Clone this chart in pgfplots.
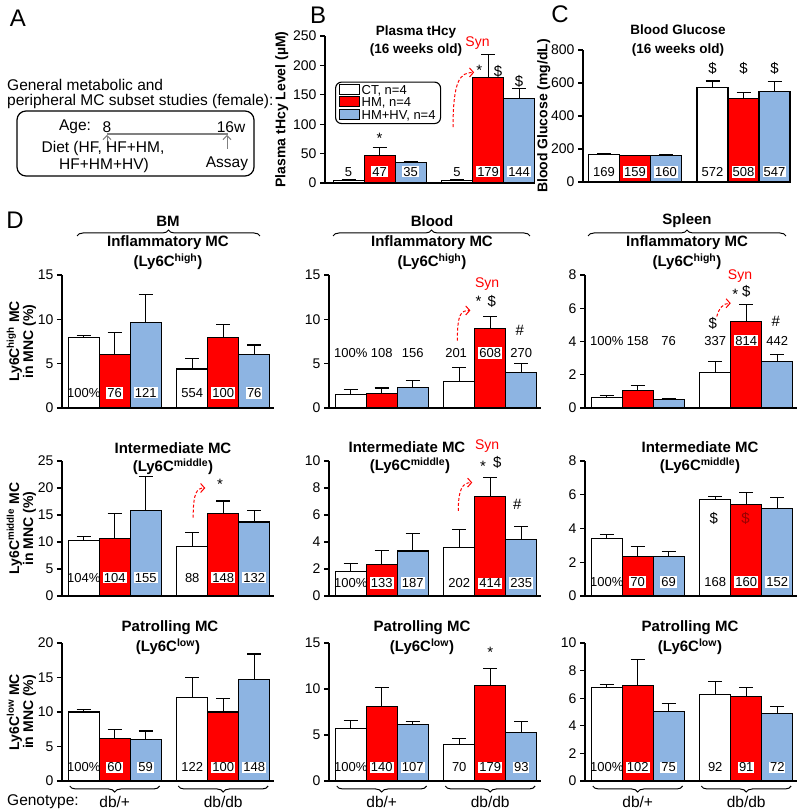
\documentclass[border=0pt]{standalone}
\usepackage{fontspec}
\setmainfont{Liberation Sans}
\usepackage{pgfplots}
\pgfplotsset{compat=1.18}
\usetikzlibrary{decorations.pathreplacing, arrows.meta}
\definecolor{hmred}{HTML}{FF0000}
\definecolor{hvblue}{HTML}{8DB4E2}
\definecolor{dred}{HTML}{9A0000}
\newcommand{\fs}[1]{\fontsize{#1}{#1}\selectfont}
\newcommand{\ttl}{\bfseries\fs{15}}
\newcommand{\lbB}[3]{\node[fill=white, inner sep=1pt, font=\fs{13}] at (axis cs:#1,#2) {#3};}
\newcommand{\lbN}[3]{\node[inner sep=1pt, font=\fs{13}] at (axis cs:#1,#2) {#3};}
\newcommand{\labs}[7]{\lbN{1}{#1}{#2}\lbB{2}{#1}{#3}\lbB{3}{#1}{#4}\lbN{4.5}{#1}{#5}\lbB{5.5}{#1}{#6}\lbB{6.5}{#1}{#7}}
\newcommand{\ann}[3]{\node[font=\fs{15}] at (axis cs:#1,#2) {#3};}
\newcommand{\syn}[2]{\node[font=\fs{14}, text=hmred] at (axis cs:#1,#2) {Syn};}
\newcommand{\rarr}[8]{\draw[hmred, dash pattern=on 3pt off 2pt, line width=1pt, -{Straight Barb[length=4pt,width=9pt]}] (axis cs:#1,#2) .. controls (axis cs:#3,#4) and (axis cs:#5,#6) .. (axis cs:#7,#8);}

\pgfplotsset{
  bp/.style={
    scale only axis,
    axis x line=bottom, axis y line=left,
    axis line style={-, line width=1.1pt, black},
    xtick=\empty,
    tick align=outside,
    major tick length=5pt,
    ytick style={line width=1.1pt, black},
    /pgf/number format/assume math mode=true,
    yticklabel style={font=\fs{14}},
    ybar,
    clip=false,
    xmin=0.3, xmax=7.15, width=212.4pt,
    ymin=0,
    every axis plot/.append style={draw=black, line width=1.1pt, bar shift=0pt, bar width=1,
      /pgfplots/error bars/y dir=plus, /pgfplots/error bars/y explicit,
      /pgfplots/error bars/error bar style={line width=1.1pt, black, solid},
      /pgfplots/error bars/error mark options={rotate=90, mark size=7pt, line width=1.1pt, black, solid}},
    ylabel style={font=\bfseries\fs{14}, align=center},
  },
  mylegend/.style={legend image code/.code={\draw[##1, line width=1pt, sharp corners] (0pt,-4pt) rectangle (20pt,6pt);}},
}

\begin{document}
\begin{tikzpicture}
\useasboundingbox (0,0) rectangle (800pt,811pt);

% ---------------- B
\begin{axis}[bp, at={(325pt,628pt)}, anchor=south west,
  xmin=0.24, xmax=7.0, width=209.6pt, height=147pt,
  ymax=250, ytick={0,50,100,150,200,250},
  ylabel={Plasma tHcy Level (µM)}, ylabel shift=-2pt,
  legend style={at={(0.048,0.69)}, anchor=north west, draw=black, line width=1.1pt,
    rounded corners=6pt, font=\fs{13}, inner xsep=3pt, inner ysep=1pt, row sep=-2pt, cells={anchor=west}},
]
\addplot[fill=white, mylegend] coordinates {(1,5) +- (0,1) (4.5,5) +- (0,1)};
\addplot[fill=hmred, mylegend] coordinates {(2,47) +- (0,13) (5.5,179) +- (0,39)};
\addplot[fill=hvblue, mylegend] coordinates {(3,35) +- (0,2) (6.5,144) +- (0,17)};
\legend{{CT, n=4},{HM, n=4},{HM+HV, n=4}}
\labs{19}{5}{47}{35}{5}{179}{144}
\ann{2}{76}{*}
\ann{5.22}{192}{*}
\ann{5.82}{190}{\$}
\ann{6.5}{173}{\$}
\syn{5.16}{238}
\rarr{4.37}{95}{4.37}{175}{4.6}{188}{5.05}{188}
\end{axis}

% ---------------- C
\begin{axis}[bp, at={(583pt,629pt)}, anchor=south west,
  xmin=0.32, xmax=7.0, width=207pt, height=132pt,
  ymax=800, ytick={0,200,400,600,800},
  ylabel={Blood Glucose (mg/dL)}, ylabel shift=-6pt]
\addplot[fill=white] coordinates {(1,169) +- (0,4) (4.5,572) +- (0,40)};
\addplot[fill=hmred] coordinates {(2,159) +- (0,3) (5.5,508) +- (0,35)};
\addplot[fill=hvblue] coordinates {(3,160) +- (0,4) (6.5,547) +- (0,60)};
\labs{61}{169}{159}{160}{572}{508}{547}
\ann{4.5}{690}{\$}\ann{5.5}{690}{\$}\ann{6.5}{690}{\$}
\end{axis}

% ---------------- Row 1
\begin{axis}[bp, at={(62pt,403pt)}, anchor=south west, height=133pt,
  ymax=15, ytick={0,5,10,15}, ylabel shift=-5pt,
  ylabel={Ly6C\textsuperscript{high} MC\\in MNC (\%)}]
\addplot[fill=white] coordinates {(1,7.9) +- (0,0.25) (4.5,4.4) +- (0,1.2)};
\addplot[fill=hmred] coordinates {(2,6.0) +- (0,2.5) (5.5,8.0) +- (0,1.4)};
\addplot[fill=hvblue] coordinates {(3,9.6) +- (0,3.2) (6.5,6.0) +- (0,1.1)};
\labs{1.7}{100\%}{76}{121}{554}{100}{76}
\end{axis}

\begin{axis}[bp, at={(329pt,403pt)}, anchor=south west, height=133pt,
  ymax=15, ytick={0,5,10,15}]
\addplot[fill=white] coordinates {(1,1.5) +- (0,0.55) (4.5,3.0) +- (0,1.6)};
\addplot[fill=hmred] coordinates {(2,1.6) +- (0,0.65) (5.5,9.0) +- (0,1.3)};
\addplot[fill=hvblue] coordinates {(3,2.3) +- (0,0.8) (6.5,4.0) +- (0,1.0)};
\lbN{1}{6.2}{100\%}\lbN{2}{6.2}{108}\lbN{3}{6.2}{156}\lbN{4.4}{6.2}{201}\lbB{5.5}{6.2}{608}\lbN{6.5}{6.2}{270}
\ann{5.12}{12.0}{*}\ann{5.55}{12.0}{\$}\ann{6.45}{8.8}{\#}
\syn{5.4}{14.0}
\rarr{4.44}{7.6}{4.44}{10.6}{4.55}{11.0}{4.86}{11.0}
\end{axis}

\begin{axis}[bp, at={(585pt,403pt)}, anchor=south west, height=133pt,
  ymax=8, ytick={0,2,4,6,8}]
\addplot[fill=white] coordinates {(1,0.63) +- (0,0.1) (4.5,2.15) +- (0,0.63)};
\addplot[fill=hmred] coordinates {(2,1.03) +- (0,0.3) (5.5,5.2) +- (0,1.05)};
\addplot[fill=hvblue] coordinates {(3,0.5) +- (0,0.05) (6.5,2.8) +- (0,0.42)};
\lbN{1}{4.05}{100\%}\lbN{2}{4.05}{158}\lbN{3}{4.05}{76}\lbN{4.5}{4.05}{337}\lbB{5.5}{4.05}{814}\lbN{6.5}{4.05}{442}
\ann{4.42}{5.1}{\$}\ann{5.15}{6.85}{*}\ann{5.5}{7.0}{\$}\ann{6.45}{5.2}{\#}
\syn{5.3}{7.95}
\rarr{4.55}{5.5}{4.62}{6.0}{4.75}{6.3}{5.0}{6.3}
\end{axis}

% ---------------- Row 2
\begin{axis}[bp, at={(62pt,215pt)}, anchor=south west, height=135pt,
  ymax=25, ytick={0,5,10,15,20,25}, ylabel shift=-5pt,
  ylabel={Ly6C\textsuperscript{middle} MC\\in MNC (\%)}]
\addplot[fill=white] coordinates {(1,10.3) +- (0,0.7) (4.5,9.2) +- (0,2.6)};
\addplot[fill=hmred] coordinates {(2,10.7) +- (0,4.6) (5.5,15.2) +- (0,2.4)};
\addplot[fill=hvblue] coordinates {(3,15.9) +- (0,6.2) (6.5,13.7) +- (0,2.2)};
\labs{3.4}{104\%}{104}{155}{88}{148}{132}
\ann{5.4}{20.7}{*}
\rarr{4.53}{14.5}{4.53}{19.2}{4.65}{20}{4.92}{20}
\end{axis}

\begin{axis}[bp, at={(329pt,215pt)}, anchor=south west, height=135pt,
  ymax=10, ytick={0,2,4,6,8,10}]
\addplot[fill=white] coordinates {(1,1.8) +- (0,0.6) (4.5,3.6) +- (0,1.3)};
\addplot[fill=hmred] coordinates {(2,2.35) +- (0,1.0) (5.5,7.35) +- (0,1.4)};
\addplot[fill=hvblue] coordinates {(3,3.33) +- (0,1.3) (6.5,4.17) +- (0,0.96)};
\labs{0.96}{100\%}{133}{187}{202}{414}{235}
\ann{5.27}{9.6}{*}\ann{5.73}{9.9}{\$}\ann{6.37}{6.8}{\#}
\syn{5.4}{11.1}
\rarr{4.47}{6.3}{4.47}{7.9}{4.6}{8.4}{4.92}{8.4}
\end{axis}

\begin{axis}[bp, at={(585pt,215pt)}, anchor=south west, height=135pt,
  ymax=8, ytick={0,2,4,6,8}]
\addplot[fill=white] coordinates {(1,3.4) +- (0,0.26) (4.5,5.72) +- (0,0.2)};
\addplot[fill=hmred] coordinates {(2,2.36) +- (0,0.55) (5.5,5.43) +- (0,0.7)};
\addplot[fill=hvblue] coordinates {(3,2.36) +- (0,0.3) (6.5,5.19) +- (0,0.65)};
\labs{0.83}{100\%}{70}{69}{168}{160}{152}
\ann{4.45}{4.6}{\$}
\node[font=\fs{15}, text=dred] at (axis cs:5.48,4.6) {\$};
\end{axis}

% ---------------- Row 3
\begin{axis}[bp, at={(62pt,30pt)}, anchor=south west, height=138pt,
  ymax=20, ytick={0,5,10,15,20}, ylabel shift=-5pt,
  ylabel={Ly6C\textsuperscript{low} MC\\in MNC (\%)}]
\addplot[fill=white] coordinates {(1,10.0) +- (0,0.4) (4.5,12.1) +- (0,2.9)};
\addplot[fill=hmred] coordinates {(2,6.1) +- (0,1.4) (5.5,10.0) +- (0,1.9)};
\addplot[fill=hvblue] coordinates {(3,5.95) +- (0,1.3) (6.5,14.7) +- (0,3.7)};
\labs{2.0}{100\%}{60}{59}{122}{100}{148}
\end{axis}

\begin{axis}[bp, at={(329pt,30pt)}, anchor=south west, height=138pt,
  ymax=15, ytick={0,5,10,15}]
\addplot[fill=white] coordinates {(1,5.75) +- (0,0.8) (4.5,4.0) +- (0,0.6)};
\addplot[fill=hmred] coordinates {(2,8.06) +- (0,2.1) (5.5,10.4) +- (0,1.8)};
\addplot[fill=hvblue] coordinates {(3,6.15) +- (0,0.35) (6.5,5.3) +- (0,1.2)};
\labs{1.5}{100\%}{140}{107}{70}{179}{93}
\ann{5.5}{14.0}{*}
\end{axis}

\begin{axis}[bp, at={(585pt,30pt)}, anchor=south west, height=138pt,
  ymax=10, ytick={0,2,4,6,8,10}]
\addplot[fill=white] coordinates {(1,6.75) +- (0,0.24) (4.5,6.27) +- (0,0.96)};
\addplot[fill=hmred] coordinates {(2,6.92) +- (0,1.9) (5.5,6.1) +- (0,0.7)};
\addplot[fill=hvblue] coordinates {(3,5.06) +- (0,0.55) (6.5,4.9) +- (0,0.5)};
\labs{1.0}{100\%}{102}{75}{92}{91}{72}
\end{axis}

% ---------------- absolute annotations (pixel coordinates, y down)
\begin{scope}[x=1pt, y=-1pt, yshift=811pt]
% panel letters
\node[font=\fs{24}] at (18,18) {A};
\node[font=\fs{24}] at (318,15) {B};
\node[font=\fs{24}] at (560,14) {C};
\node[font=\fs{24}] at (15,220) {D};
% panel A
\node[font=\fs{15.5}, anchor=west, inner sep=0pt] at (7,85) {General metabolic and};
\node[font=\fs{15.5}, anchor=west, inner sep=0pt] at (7,102) {peripheral MC subset studies (female):};
\draw[line width=1.2pt, rounded corners=9pt] (17,111) rectangle (254,176);
\node[font=\fs{15.5}] at (75,127) {Age:};
\node[font=\fs{15.5}] at (107,127) {8};
\node[font=\fs{15.5}] at (231,127) {16w};
\draw[gray, line width=1.5pt] (107,134) -- (228,134);
\draw[gray, line width=1pt, -{Straight Barb[length=4pt,width=8pt]}] (107,148) -- (107,135);
\draw[gray, line width=1pt, -{Straight Barb[length=4pt,width=8pt]}] (227,149) -- (227,135);
\node[font=\fs{15.5}] at (103,148) {Diet (HF, HF+HM,};
\node[font=\fs{15.5}] at (104,165) {HF+HM+HV)};
\node[font=\fs{15.5}] at (227,164) {Assay};
% B, C titles
\node[font=\bfseries\fs{13.5}] at (416,32) {Plasma tHcy};
\node[font=\bfseries\fs{13.5}] at (416,50) {(16 weeks old)};
\node[font=\bfseries\fs{13.5}] at (678,30) {Blood Glucose};
\node[font=\bfseries\fs{13.5}] at (678,50) {(16 weeks old)};
% D row 1 headers
\node[font=\ttl] at (168,221) {BM};
\node[font=\ttl] at (432,221) {Blood};
\node[font=\ttl] at (687,221) {Spleen};
\draw[line width=1pt, decorate, decoration={brace, amplitude=6pt}] (77,236) -- (260,236);
\draw[line width=1pt, decorate, decoration={brace, amplitude=6pt}] (333,236) -- (530,236);
\draw[line width=1pt, decorate, decoration={brace, amplitude=6pt}] (588,236) -- (786,236);
\node[font=\ttl] at (168,243) {Inflammatory MC};
\node[font=\ttl] at (168,262) {(Ly6C\textsuperscript{high})};
\node[font=\ttl] at (432,243) {Inflammatory MC};
\node[font=\ttl] at (432,262) {(Ly6C\textsuperscript{high})};
\node[font=\ttl] at (687,243) {Inflammatory MC};
\node[font=\ttl] at (687,262) {(Ly6C\textsuperscript{high})};
% row 2 titles
\node[font=\ttl] at (173,448) {Intermediate MC};
\node[font=\ttl] at (173,467) {(Ly6C\textsuperscript{middle})};
\node[font=\ttl] at (407,447) {Intermediate MC};
\node[font=\ttl] at (410,466) {(Ly6C\textsuperscript{middle})};
\node[font=\ttl] at (700,447) {Intermediate MC};
\node[font=\ttl] at (700,466) {(Ly6C\textsuperscript{middle})};
% row 3 titles
\node[font=\ttl] at (170,628) {Patrolling MC};
\node[font=\ttl] at (168,647) {(Ly6C\textsuperscript{low})};
\node[font=\ttl] at (422,628) {Patrolling MC};
\node[font=\ttl] at (422,647) {(Ly6C\textsuperscript{low})};
\node[font=\ttl] at (690,628) {Patrolling MC};
\node[font=\ttl] at (690,647) {(Ly6C\textsuperscript{low})};
% genotype braces
\foreach \a/\b in {69.75/159.65, 178.25/268.15, 336.75/426.65, 445.25/535.15, 592.75/682.65, 701.25/791.15}
  \draw[line width=1pt, decorate, decoration={brace, amplitude=6pt}] (\b,786) -- (\a,786);
\node[font=\fs{15.5}, anchor=west, inner sep=0pt] at (7,802) {Genotype:};
\foreach \c/\t in {114.7/{db/+}, 223.2/{db/db}, 381.7/{db/+}, 490.2/{db/db}, 637.7/{db/+}, 746.2/{db/db}}
  \node[font=\fs{15.5}] at (\c,802) {\t};
\end{scope}
\end{tikzpicture}
\end{document}
